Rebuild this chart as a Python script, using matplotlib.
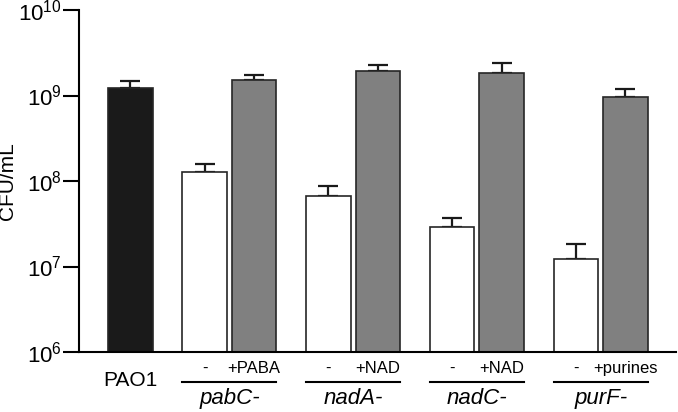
import numpy as np
import matplotlib
matplotlib.use("Agg")
import matplotlib.pyplot as plt
import matplotlib.transforms as mtransforms

plt.rcParams['font.family'] = ['Liberation Sans', 'DejaVu Sans']
plt.rcParams['mathtext.default'] = 'regular'

# data
strains = ['PAO1', 'pabC-', 'pabC-', 'nadA-', 'nadA-', 'nadC-', 'nadC-', 'purF-', 'purF-']
conditions = ['', '-', '+PABA', '-', '+NAD', '-', '+NAD', '-', '+purines']
cfu = [1.24e9, 1.27e8, 1.52e9, 6.7e7, 1.96e9, 2.9e7, 1.85e9, 1.24e7, 9.5e8]
cfu_upper = [1.46e9, 1.58e8, 1.73e9, 8.8e7, 2.3e9, 3.7e7, 2.4e9, 1.85e7, 1.2e9]
groups = ['pabC-', 'nadA-', 'nadC-', 'purF-']

positions = [0, 1.5, 2.5, 4, 5, 6.5, 7.5, 9, 10]
colors = ['#1a1a1a', 'white', '#808080', 'white', '#808080', 'white', '#808080', 'white', '#808080']
width = 0.9

fig = plt.figure(figsize=(6.78, 4.12), dpi=100)
ax = fig.add_axes([0.1165, 0.1456, 0.8805, 0.8301])

lower = np.zeros(len(cfu))
upper = np.array(cfu_upper) - np.array(cfu)
ax.bar(positions, cfu, width=width, color=colors, edgecolor='#262626', linewidth=1.2,
       bottom=0, zorder=2)
ax.errorbar(positions, cfu, yerr=[lower, upper], fmt='none', ecolor='#1a1a1a',
            elinewidth=1.6, capsize=7, capthick=1.6, zorder=1)

ax.set_yscale('log')
ax.set_ylim(1e6, 1e10)
ax.set_xlim(-1.04, 11.02)
ax.set_yticks([1e6, 1e7, 1e8, 1e9, 1e10])
ax.yaxis.set_minor_locator(matplotlib.ticker.NullLocator())
ax.set_xticks([])
ax.tick_params(axis='y', which='major', length=11.5, width=1.5, labelsize=16, pad=1)
for s in ['top', 'right']:
    ax.spines[s].set_visible(False)
for s in ['left', 'bottom']:
    ax.spines[s].set_linewidth(1.5)
ax.set_ylabel('CFU/mL', fontsize=15)
ax.yaxis.set_label_coords(-0.103, 0.5)

trans = mtransforms.blended_transform_factory(ax.transData, ax.transAxes)
ax.text(positions[0], -0.082, strains[0], transform=trans, ha='center', va='center', fontsize=15)
for i in range(1, len(positions)):
    ax.text(positions[i], -0.047, conditions[i], transform=trans, ha='center', va='center',
            fontsize=12)
for g, name in enumerate(groups):
    x0 = positions[1 + 2 * g] - width / 2
    x1 = positions[2 + 2 * g] + width / 2
    ax.plot([x0, x1], [-0.087, -0.087], transform=trans, color='black', lw=1.5, clip_on=False)
    ax.text((x0 + x1) / 2, -0.135, name, transform=trans, ha='center', va='center',
            fontsize=16, style='italic')

fig.savefig('out.png', dpi=100)
